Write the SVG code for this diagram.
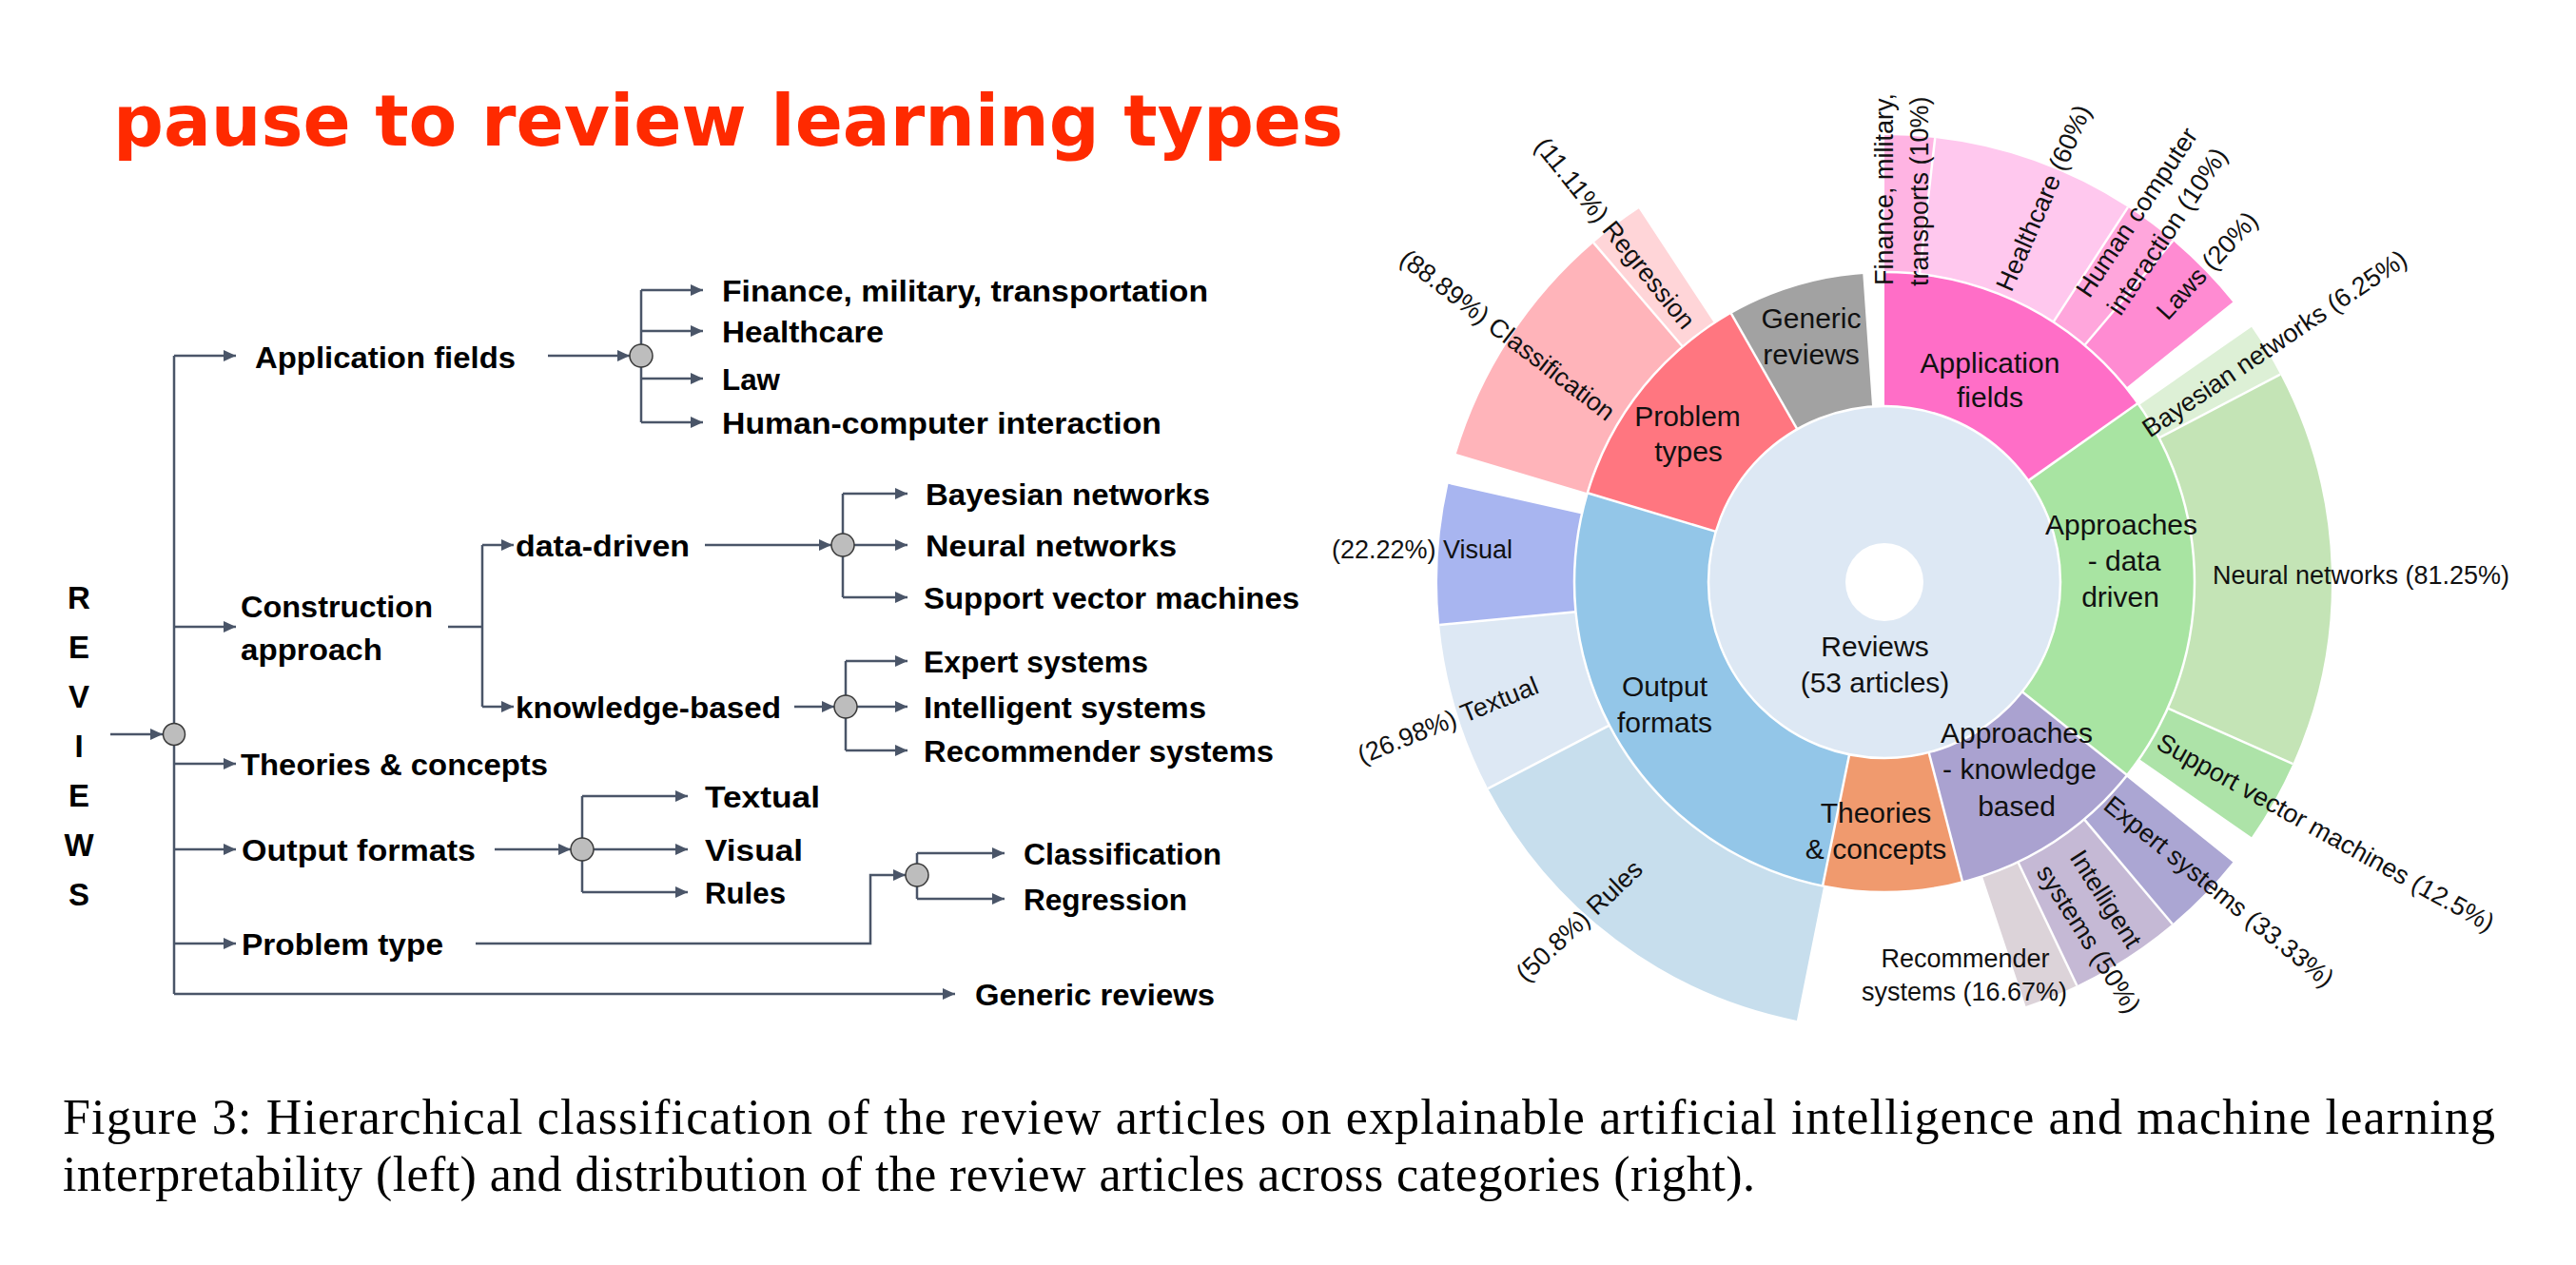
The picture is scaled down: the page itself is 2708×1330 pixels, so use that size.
<svg xmlns="http://www.w3.org/2000/svg" width="2708" height="1330" viewBox="0 0 2708 1330">
<defs>
<marker id="ah" markerUnits="userSpaceOnUse" markerWidth="14" markerHeight="12" refX="13" refY="6" orient="auto"><path d="M0,0 L13,6 L0,12 z" fill="#4A5568"/></marker>
</defs>
<style>
.t{font-family:"Liberation Sans",Arial,sans-serif;font-weight:bold;font-size:32px;fill:#000}
.rv{font-family:"Liberation Sans",Arial,sans-serif;font-weight:bold;font-size:33px;fill:#000;text-anchor:middle}
.c{fill:none;stroke:#4A5568;stroke-width:2.5}
.a{marker-end:url(#ah)}
.j{fill:#BDBDBD;stroke:#3A3A3A;stroke-width:1.5}
.r1{fill:none;stroke-width:141}
.r2{fill:none;stroke-width:144}
.sep{stroke:#fff;stroke-width:2.5}
.l{font-family:"Liberation Sans",Arial,sans-serif;font-size:27px;fill:#111;text-anchor:middle}
.ls{font-family:"Liberation Sans",Arial,sans-serif;font-size:27px;fill:#111}
.k{font-family:"Liberation Sans",Arial,sans-serif;font-size:30px;fill:#111;text-anchor:middle}
.cap{font-family:"Liberation Serif","Times New Roman",serif;font-size:52px;fill:#000}
</style>
<rect width="2708" height="1330" fill="#fff"/>

<text id="title" x="119" y="153" font-family="DejaVu Sans, sans-serif" font-weight="bold" font-size="74" fill="#FF2A00" textLength="1293">pause to review learning types</text>

<g id="reviews-label">
<text class="rv" x="83" y="640">R</text>
<text class="rv" x="83" y="692">E</text>
<text class="rv" x="83" y="744">V</text>
<text class="rv" x="83" y="796">I</text>
<text class="rv" x="83" y="848">E</text>
<text class="rv" x="83" y="900">W</text>
<text class="rv" x="83" y="952">S</text>
</g>

<g id="connectors">
<path class="c a" d="M116 772 H171"/>
<path class="c" d="M183 374 V1045"/>
<path class="c a" d="M183 374 H248"/>
<path class="c a" d="M183 659 H248"/>
<path class="c a" d="M183 803 H248"/>
<path class="c a" d="M183 893 H248"/>
<path class="c a" d="M183 992 H248"/>
<path class="c a" d="M183 1045 H1004"/>
<path class="c a" d="M576 374 H662"/>
<path class="c" d="M674 305 V444"/>
<path class="c a" d="M674 305 H739"/>
<path class="c a" d="M674 348 H739"/>
<path class="c a" d="M674 398 H739"/>
<path class="c a" d="M674 444 H739"/>
<path class="c" d="M471 659 H507 M507 573 V743"/>
<path class="c a" d="M507 573 H540"/>
<path class="c a" d="M507 743 H540"/>
<path class="c a" d="M741 573 H874"/>
<path class="c" d="M886 519 V628"/>
<path class="c a" d="M886 519 H954"/>
<path class="c a" d="M898 573 H954"/>
<path class="c a" d="M886 628 H954"/>
<path class="c a" d="M835 743 H877"/>
<path class="c" d="M889 695 V789"/>
<path class="c a" d="M889 695 H954"/>
<path class="c a" d="M901 743 H954"/>
<path class="c a" d="M889 789 H954"/>
<path class="c a" d="M520 893 H600"/>
<path class="c" d="M612 837 V938"/>
<path class="c a" d="M612 837 H723"/>
<path class="c a" d="M624 893 H723"/>
<path class="c a" d="M612 938 H723"/>
<path class="c a" d="M500 992 H915 V920 H952"/>
<path class="c" d="M964 897 V945"/>
<path class="c a" d="M964 897 H1056"/>
<path class="c a" d="M964 945 H1056"/>
</g>

<g id="junctions">
<circle class="j" cx="183" cy="772" r="11.5"/>
<circle class="j" cx="674" cy="374" r="12"/>
<circle class="j" cx="886" cy="573" r="12"/>
<circle class="j" cx="889" cy="743" r="12"/>
<circle class="j" cx="612" cy="893" r="12"/>
<circle class="j" cx="964" cy="920" r="12"/>
</g>

<g id="tree-nodes">
<g id="n-app"><text class="t" x="268" y="387" textLength="274" lengthAdjust="spacingAndGlyphs">Application fields</text></g>
<g id="n-fin"><text class="t" x="759" y="317" textLength="511" lengthAdjust="spacingAndGlyphs">Finance, military, transportation</text></g>
<g id="n-hc"><text class="t" x="759" y="360" textLength="170" lengthAdjust="spacingAndGlyphs">Healthcare</text></g>
<g id="n-law"><text class="t" x="759" y="410" textLength="61" lengthAdjust="spacingAndGlyphs">Law</text></g>
<g id="n-hci"><text class="t" x="759" y="456" textLength="462" lengthAdjust="spacingAndGlyphs">Human-computer interaction</text></g>
<g id="n-constr"><text class="t" x="253" y="649" textLength="202" lengthAdjust="spacingAndGlyphs">Construction</text><text class="t" x="253" y="694" textLength="149" lengthAdjust="spacingAndGlyphs">approach</text></g>
<g id="n-dd"><text class="t" x="542" y="585" textLength="183" lengthAdjust="spacingAndGlyphs">data-driven</text></g>
<g id="n-kb"><text class="t" x="542" y="755" textLength="279" lengthAdjust="spacingAndGlyphs">knowledge-based</text></g>
<g id="n-bn"><text class="t" x="973" y="531" textLength="299" lengthAdjust="spacingAndGlyphs">Bayesian networks</text></g>
<g id="n-nn"><text class="t" x="973" y="585" textLength="264" lengthAdjust="spacingAndGlyphs">Neural networks</text></g>
<g id="n-svm"><text class="t" x="971" y="640" textLength="395" lengthAdjust="spacingAndGlyphs">Support vector machines</text></g>
<g id="n-es"><text class="t" x="971" y="707" textLength="236" lengthAdjust="spacingAndGlyphs">Expert systems</text></g>
<g id="n-is"><text class="t" x="971" y="755" textLength="297" lengthAdjust="spacingAndGlyphs">Intelligent systems</text></g>
<g id="n-rs"><text class="t" x="971" y="801" textLength="368" lengthAdjust="spacingAndGlyphs">Recommender systems</text></g>
<g id="n-th"><text class="t" x="253" y="815" textLength="323" lengthAdjust="spacingAndGlyphs">Theories &amp; concepts</text></g>
<g id="n-of"><text class="t" x="254" y="905" textLength="246" lengthAdjust="spacingAndGlyphs">Output formats</text></g>
<g id="n-tx"><text class="t" x="741" y="849" textLength="121" lengthAdjust="spacingAndGlyphs">Textual</text></g>
<g id="n-vi"><text class="t" x="741" y="905" textLength="103" lengthAdjust="spacingAndGlyphs">Visual</text></g>
<g id="n-ru"><text class="t" x="741" y="950" textLength="85" lengthAdjust="spacingAndGlyphs">Rules</text></g>
<g id="n-cl"><text class="t" x="1076" y="909" textLength="208" lengthAdjust="spacingAndGlyphs">Classification</text></g>
<g id="n-re"><text class="t" x="1076" y="957" textLength="172" lengthAdjust="spacingAndGlyphs">Regression</text></g>
<g id="n-pt"><text class="t" x="254" y="1004" textLength="212" lengthAdjust="spacingAndGlyphs">Problem type</text></g>
<g id="n-gr"><text class="t" x="1025" y="1057" textLength="252" lengthAdjust="spacingAndGlyphs">Generic reviews</text></g>
</g>

<g id="sunburst">
<circle id="s-reviews" cx="1981" cy="612" r="185" fill="#DDE8F4"/>
<g id="ring1">
<circle id="s-app" class="r1" cx="1981" cy="612" r="255.5" stroke="#FF6EC7" pathLength="360" stroke-dasharray="54.8 999" transform="rotate(-90 1981 612)"/>
<circle id="s-dd" class="r1" cx="1981" cy="612" r="255.5" stroke="#A8E4A2" pathLength="360" stroke-dasharray="73.7 999" transform="rotate(-35.2 1981 612)"/>
<circle id="s-kb" class="r1" cx="1981" cy="612" r="255.5" stroke="#AAA2D0" pathLength="360" stroke-dasharray="36.9 999" transform="rotate(38.5 1981 612)"/>
<circle id="s-th" class="r1" cx="1981" cy="612" r="255.5" stroke="#F09A6E" pathLength="360" stroke-dasharray="26.1 999" transform="rotate(75.4 1981 612)"/>
<circle id="s-of" class="r1" cx="1981" cy="612" r="255.5" stroke="#93C6E8" pathLength="360" stroke-dasharray="95.2 999" transform="rotate(101.5 1981 612)"/>
<circle id="s-pt" class="r1" cx="1981" cy="612" r="255.5" stroke="#FF7680" pathLength="360" stroke-dasharray="43.6 999" transform="rotate(196.7 1981 612)"/>
<circle id="s-gr" class="r1" cx="1981" cy="612" r="255.5" stroke="#A2A2A2" pathLength="360" stroke-dasharray="25.7 999" transform="rotate(240.3 1981 612)"/>
</g>
<g id="ring2">
<circle id="s-fin" class="r2" cx="1981" cy="612" r="398" stroke="#FFB4E3" pathLength="360" stroke-dasharray="6.5 999" transform="rotate(-90 1981 612)"/>
<circle id="s-hc" class="r2" cx="1981" cy="612" r="398" stroke="#FFC8EE" pathLength="360" stroke-dasharray="26.5 999" transform="rotate(-83.5 1981 612)"/>
<circle id="s-hci" class="r2" cx="1981" cy="612" r="398" stroke="#FFA6DC" pathLength="360" stroke-dasharray="7.2 999" transform="rotate(-57 1981 612)"/>
<circle id="s-laws" class="r2" cx="1981" cy="612" r="398" stroke="#FF8BD2" pathLength="360" stroke-dasharray="11 999" transform="rotate(-49.8 1981 612)"/>
<circle id="s-bay" class="r2" cx="1981" cy="612" r="398" stroke="#DDF0D6" pathLength="360" stroke-dasharray="7.1 999" transform="rotate(-34.8 1981 612)"/>
<circle id="s-nn" class="r2" cx="1981" cy="612" r="398" stroke="#C4E4B6" pathLength="360" stroke-dasharray="51.7 999" transform="rotate(-27.7 1981 612)"/>
<circle id="s-svm" class="r2" cx="1981" cy="612" r="398" stroke="#ADE3A8" pathLength="360" stroke-dasharray="10.8 999" transform="rotate(24 1981 612)"/>
<circle id="s-exp" class="r2" cx="1981" cy="612" r="398" stroke="#ABA6D3" pathLength="360" stroke-dasharray="11.1 999" transform="rotate(38.8 1981 612)"/>
<circle id="s-int" class="r2" cx="1981" cy="612" r="398" stroke="#C5B9D5" pathLength="360" stroke-dasharray="14.6 999" transform="rotate(49.9 1981 612)"/>
<circle id="s-rec" class="r2" cx="1981" cy="612" r="398" stroke="#DCD3D9" pathLength="360" stroke-dasharray="7.1 999" transform="rotate(64.5 1981 612)"/>
<circle id="s-rules" class="r2" cx="1981" cy="612" r="398" stroke="#C7DEED" pathLength="360" stroke-dasharray="51.2 999" transform="rotate(101.3 1981 612)"/>
<circle id="s-textual" class="r2" cx="1981" cy="612" r="398" stroke="#DDE8F4" pathLength="360" stroke-dasharray="22 999" transform="rotate(152.5 1981 612)"/>
<circle id="s-visual" class="r2" cx="1981" cy="612" r="398" stroke="#A8B5F0" pathLength="360" stroke-dasharray="18.2 999" transform="rotate(174.5 1981 612)"/>
<circle id="s-cls" class="r2" cx="1981" cy="612" r="398" stroke="#FFB4BA" pathLength="360" stroke-dasharray="32.7 999" transform="rotate(196.7 1981 612)"/>
<circle id="s-reg" class="r2" cx="1981" cy="612" r="398" stroke="#FFD5D8" pathLength="360" stroke-dasharray="7.3 999" transform="rotate(229.4 1981 612)"/>
</g>
<g id="separators">
<line class="sep" x1="1981" y1="427" x2="1981" y2="286" transform="rotate(54.8 1981 612)"/>
<line class="sep" x1="1981" y1="427" x2="1981" y2="286" transform="rotate(128.5 1981 612)"/>
<line class="sep" x1="1981" y1="427" x2="1981" y2="286" transform="rotate(165.4 1981 612)"/>
<line class="sep" x1="1981" y1="427" x2="1981" y2="286" transform="rotate(191.5 1981 612)"/>
<line class="sep" x1="1981" y1="427" x2="1981" y2="286" transform="rotate(286.7 1981 612)"/>
<line class="sep" x1="1981" y1="427" x2="1981" y2="286" transform="rotate(330.3 1981 612)"/>
<line class="sep" x1="1981" y1="286" x2="1981" y2="142" transform="rotate(6.5 1981 612)"/>
<line class="sep" x1="1981" y1="286" x2="1981" y2="142" transform="rotate(33 1981 612)"/>
<line class="sep" x1="1981" y1="286" x2="1981" y2="142" transform="rotate(40.2 1981 612)"/>
<line class="sep" x1="1981" y1="286" x2="1981" y2="142" transform="rotate(62.3 1981 612)"/>
<line class="sep" x1="1981" y1="286" x2="1981" y2="142" transform="rotate(114 1981 612)"/>
<line class="sep" x1="1981" y1="286" x2="1981" y2="142" transform="rotate(139.9 1981 612)"/>
<line class="sep" x1="1981" y1="286" x2="1981" y2="142" transform="rotate(154.5 1981 612)"/>
<line class="sep" x1="1981" y1="286" x2="1981" y2="142" transform="rotate(242.5 1981 612)"/>
<line class="sep" x1="1981" y1="286" x2="1981" y2="142" transform="rotate(264.5 1981 612)"/>
<line class="sep" x1="1981" y1="286" x2="1981" y2="142" transform="rotate(319.4 1981 612)"/>
<circle cx="1981" cy="612" r="185" fill="none" stroke="#fff" stroke-width="2.5"/>
<circle cx="1981" cy="612" r="326" fill="none" stroke="#fff" stroke-width="2.5"/>
</g>
<circle id="s-hole" cx="1981" cy="612" r="41" fill="#fff"/>

<g id="cat-labels">
<text class="k" x="1971" y="690">Reviews</text>
<text class="k" x="1971" y="728">(53 articles)</text>
<text class="k" x="1904" y="345">Generic</text>
<text class="k" x="1904" y="383">reviews</text>
<text class="k" x="1774" y="448">Problem</text>
<text class="k" x="1775" y="485">types</text>
<text class="k" x="2092" y="392">Application</text>
<text class="k" x="2092" y="428">fields</text>
<text class="k" x="2230" y="562">Approaches</text>
<text class="k" x="2233" y="600">- data</text>
<text class="k" x="2229" y="638">driven</text>
<text class="k" x="2120" y="781">Approaches</text>
<text class="k" x="2123" y="819">- knowledge</text>
<text class="k" x="2120" y="858">based</text>
<text class="k" x="1972" y="865">Theories</text>
<text class="k" x="1972" y="903">&amp; concepts</text>
<text class="k" x="1750" y="732">Output</text>
<text class="k" x="1750" y="770">formats</text>
</g>

<g id="sub-labels">
<text class="l" dy="0.35em" transform="translate(1698 245) rotate(51)">(11.11%) Regression</text>
<text class="l" dy="0.35em" transform="translate(1585 352) rotate(37.5)">(88.89%) Classification</text>
<text class="l" dy="0.35em" transform="translate(1495 578)">(22.22%) Visual</text>
<text class="l" dy="0.35em" transform="translate(1522 757) rotate(-22)">(26.98%) Textual</text>
<text class="l" dy="0.35em" transform="translate(1660 968) rotate(-43.4)">(50.8%) Rules</text>
<text class="l" x="2066" y="1017">Recommender</text>
<text class="l" x="2065" y="1052">systems (16.67%)</text>
<text class="l" dy="0.35em" transform="translate(2214 945) rotate(57.5)">Intelligent</text>
<text class="l" dy="0.35em" transform="translate(2196 987) rotate(57.5)">systems (50%)</text>
<text class="l" dy="0.35em" transform="translate(2333 937) rotate(39)">Expert systems (33.33%)</text>
<text class="l" dy="0.35em" transform="translate(2445 875) rotate(29)">Support vector machines (12.5%)</text>
<text class="l" dy="0.35em" transform="translate(2482 605)">Neural networks (81.25%)</text>
<text class="l" dy="0.35em" transform="translate(2391 361) rotate(-34)">Bayesian networks (6.25%)</text>
<text class="l" dy="0.35em" transform="translate(2320 279) rotate(-47.5)">Laws (20%)</text>
<text class="l" dy="0.35em" transform="translate(2246 223) rotate(-56.3)">Human computer</text>
<text class="l" dy="0.35em" transform="translate(2278 243) rotate(-56.3)">interaction (10%)</text>
<text class="l" dy="0.35em" transform="translate(2148 208) rotate(-66.4)">Healthcare (60%)</text>
<text class="ls" transform="translate(1990 300) rotate(-90)">Finance, military,</text>
<text class="ls" transform="translate(2027 301) rotate(-90)">transports (10%)</text>
</g>
</g>

<g id="caption">
<text class="cap" x="66" y="1192" textLength="2557">Figure 3:  Hierarchical classification of the review articles on explainable artificial intelligence and machine learning</text>
<text class="cap" x="66" y="1252" textLength="1779">interpretability (left) and distribution of the review articles across categories (right).</text>
</g>
</svg>
